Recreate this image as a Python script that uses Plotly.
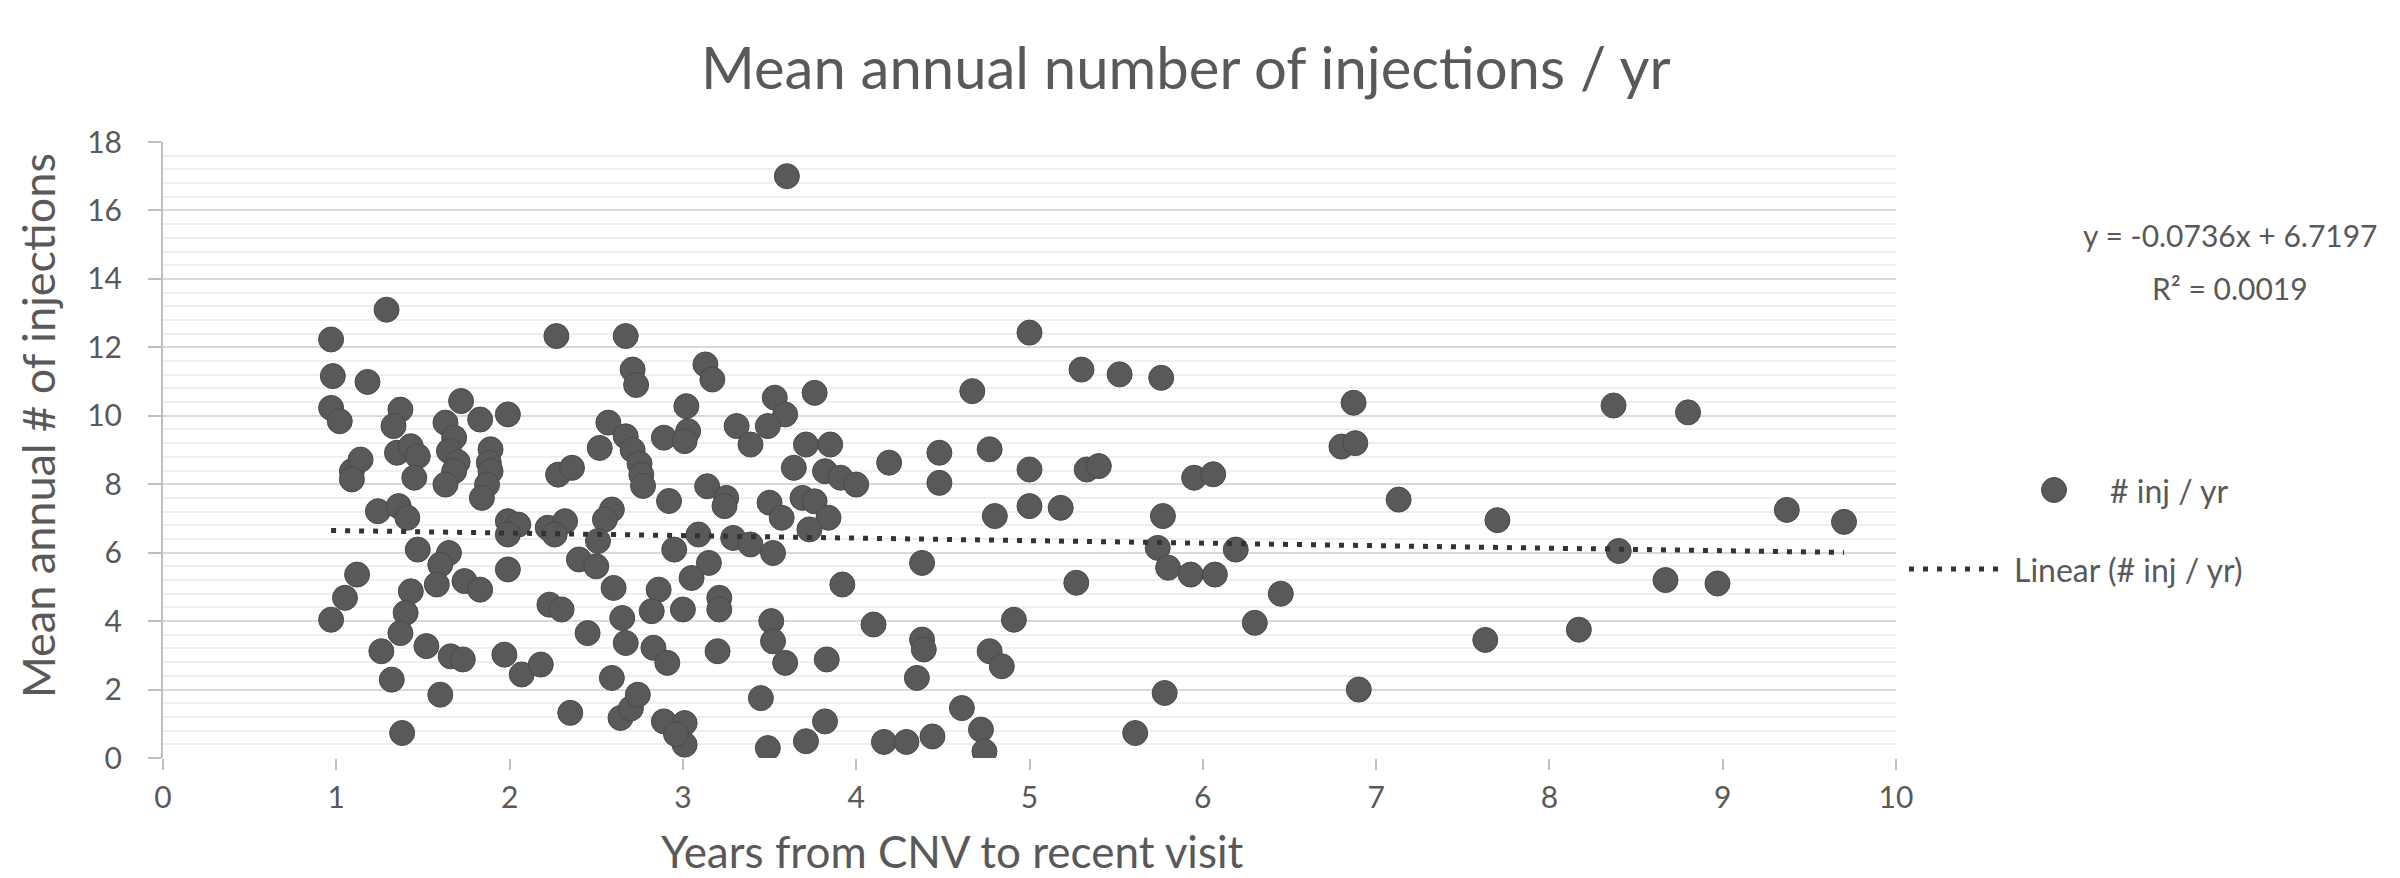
import plotly.graph_objects as go

# ---------------- data ----------------
years = [
    0.97, 0.98, 1.18, 0.97, 1.02, 1.29, 1.37, 1.33, 1.72, 1.63, 1.68, 1.65, 1.70, 1.68, 1.63,
    1.83, 1.99, 1.89, 1.88, 1.89, 1.87, 1.84,
    1.09, 1.14, 1.09, 1.35, 1.43, 1.47, 1.45, 1.24, 1.36, 1.41, 1.47, 1.65, 1.60, 1.58, 1.74, 1.83,
    1.12, 1.05, 0.97, 1.43, 1.40, 1.37, 1.26, 1.52, 1.66, 1.73, 1.32, 1.60, 1.38,
    1.99, 2.05, 1.99, 1.99, 1.97, 2.07,
    2.27, 2.67, 2.71, 2.73, 2.28, 2.36, 2.57, 2.52, 2.67, 2.71, 2.75, 2.76, 2.77,
    2.22, 2.32, 2.26, 2.59, 2.55, 2.51, 2.40, 2.50, 2.60, 2.23, 2.30, 2.45, 2.65, 2.67, 2.18, 2.59,
    2.35, 2.64, 2.70, 2.74,
    3.13, 3.17, 3.02, 3.03, 2.89, 3.01, 3.31, 3.39, 3.53, 3.59, 3.49, 3.64,
    2.92, 3.14, 3.25, 3.24, 3.50, 3.57, 3.09, 2.95, 3.29, 3.39, 3.52, 3.15, 3.05, 2.86, 2.82, 3.00,
    3.21, 3.21,
    2.83, 2.91, 3.20, 3.51, 3.52, 3.59, 3.45, 2.89, 3.01, 3.01, 2.96, 3.49, 3.60,
    3.76, 4.67, 3.71, 3.85, 3.82, 3.91, 4.00, 4.19, 4.48, 4.48, 4.77, 3.69, 3.76, 3.84, 3.73, 4.80,
    4.38, 3.92, 4.10, 4.38, 4.39, 4.35, 3.83, 4.91, 4.77, 4.84, 3.82, 3.71, 4.16, 4.29, 4.44, 4.61,
    4.72, 4.74,
    5.00, 5.30, 5.52, 5.76, 5.00, 5.33, 5.40, 5.95, 6.06, 5.00, 5.18, 5.77, 5.74, 5.80, 5.93, 6.07,
    6.19, 5.27, 5.78, 5.61,
    6.30, 6.45, 6.80, 6.88, 6.87, 6.90, 7.13, 7.70, 7.63, 8.17, 8.37, 8.40, 8.67, 8.80, 8.97, 9.37,
    9.70,
]
inj_per_yr = [
    12.23, 11.16, 10.99, 10.23, 9.84, 13.1, 10.18, 9.70, 10.43, 9.80, 9.36, 8.97, 8.65, 8.38, 7.99,
    9.89, 10.04, 9.02, 8.63, 8.38, 7.99, 7.6,
    8.38, 8.72, 8.14, 8.92, 9.11, 8.82, 8.19, 7.21, 7.36, 7.02, 6.09, 5.99, 5.65, 5.07, 5.17, 4.92,
    5.36, 4.68, 4.04, 4.87, 4.24, 3.65, 3.12, 3.27, 2.97, 2.88, 2.29, 1.85, 0.73,
    6.92, 6.82, 6.53, 5.51, 3.02, 2.44,
    12.33, 12.33, 11.35, 10.9, 8.28, 8.48, 9.80, 9.06, 9.40, 9.0, 8.6, 8.28, 7.95,
    6.73, 6.92, 6.53, 7.26, 6.97, 6.34, 5.80, 5.60, 4.97, 4.48, 4.34, 3.65, 4.09, 3.36, 2.73, 2.34,
    1.32, 1.17, 1.45, 1.85,
    11.5, 11.06, 10.28, 9.55, 9.36, 9.26, 9.70, 9.16, 10.53, 10.04, 9.70, 8.48,
    7.51, 7.94, 7.6, 7.36, 7.46, 7.02, 6.53, 6.09, 6.43, 6.24, 5.99, 5.70, 5.26, 4.92, 4.29, 4.34,
    4.68, 4.34,
    3.22, 2.78, 3.12, 4.0, 3.41, 2.78, 1.75, 1.07, 1.02, 0.39, 0.7, 0.29, 17.0,
    10.67, 10.72, 9.16, 9.16, 8.38, 8.19, 7.99, 8.63, 8.92, 8.04, 9.02, 7.6, 7.5, 7.02, 6.68, 7.07,
    5.70, 5.07, 3.9, 3.46, 3.17, 2.34, 2.88, 4.04, 3.12, 2.68, 1.07, 0.49, 0.47, 0.47, 0.63, 1.46,
    0.83, 0.19,
    12.43, 11.35, 11.21, 11.11, 8.43, 8.43, 8.53, 8.19, 8.29, 7.36, 7.31, 7.07, 6.14, 5.56, 5.36, 5.36,
    6.09, 5.12, 1.90, 0.73,
    3.95, 4.8, 9.1, 9.2, 10.38, 2.0, 7.55, 6.95, 3.45, 3.75, 10.3, 6.05, 5.2, 10.1, 5.1, 7.25,
    6.9,
]

# trendline as reported on the chart
slope = -0.0736
intercept = 6.7197
r_squared = 0.0019

x_ticks = list(range(0, 11))
y_ticks = list(range(0, 19, 2))

title_text = "Mean annual number of injections / yr"
x_title = "Years from CNV to recent visit"
y_title = "Mean annual # of injections"
series_name = "# inj / yr"
trend_name = "Linear (# inj / yr)"

# ---------------- layout geometry (pixels) ----------------
W, H = 2400, 878
L, R, T, B = 155, 512, 134, 128
plot_w = W - L - R
plot_h = H - T - B


def px_x(X):
    return (X - L) / plot_w


def px_y(Y):
    return (H - B - Y) / plot_h


FONT = "Lato"
TXT = "#595959"
MARK = "#595959"

trend_x = [min(years), max(years)]
trend_y = [slope * v + intercept for v in trend_x]

fig = go.Figure()
fig.add_trace(go.Scatter(
    x=years, y=inj_per_yr, mode="markers", name=series_name,
    marker=dict(size=25, color=MARK, line=dict(color="#4a4a4a", width=1)),
    showlegend=False,
))
fig.add_trace(go.Scatter(
    x=trend_x, y=trend_y, mode="lines", name=trend_name,
    line=dict(color="#333333", width=5, dash="5px,9px"),
    showlegend=False,
))

eq_text = f"y = {slope:.4f}x + {intercept:.4f}"
r2_text = f"R² = {r_squared:.4f}"

annotations = [
    dict(text=title_text, x=px_x(1178), y=px_y(58), xref="paper", yref="paper",
         showarrow=False, font=dict(family=FONT, size=58, color=TXT),
         xanchor="center", yanchor="middle"),
    dict(text=x_title, x=px_x(944), y=px_y(843), xref="paper", yref="paper",
         showarrow=False, font=dict(family=FONT, size=44, color=TXT),
         xanchor="center", yanchor="middle"),
    dict(text=y_title, x=px_x(30), y=px_y(418), xref="paper", yref="paper", textangle=-90,
         showarrow=False, font=dict(family=FONT, size=45, color=TXT),
         xanchor="center", yanchor="middle"),
    dict(text=eq_text, x=px_x(2222), y=px_y(227), xref="paper", yref="paper",
         showarrow=False, font=dict(family=FONT, size=30, color=TXT),
         xanchor="center", yanchor="middle"),
    dict(text=r2_text, x=px_x(2222), y=px_y(280), xref="paper", yref="paper",
         showarrow=False, font=dict(family=FONT, size=30, color=TXT),
         xanchor="center", yanchor="middle"),
    dict(text=series_name, x=px_x(2100), y=px_y(482), xref="paper", yref="paper",
         showarrow=False, font=dict(family=FONT, size=32, color=TXT),
         xanchor="left", yanchor="middle"),
    dict(text=trend_name, x=px_x(2004), y=px_y(561), xref="paper", yref="paper",
         showarrow=False, font=dict(family=FONT, size=32, color=TXT),
         xanchor="left", yanchor="middle"),
]

shapes = [
    # legend marker
    dict(type="circle", xref="paper", yref="paper", xsizemode="pixel", ysizemode="pixel",
         xanchor=px_x(2046), yanchor=px_y(482), x0=-12.5, x1=12.5, y0=-12.5, y1=12.5,
         fillcolor=MARK, line=dict(color="#4a4a4a", width=1)),
    # legend dotted line
    dict(type="line", xref="paper", yref="paper", x0=px_x(1901), x1=px_x(1993),
         y0=px_y(561), y1=px_y(561), line=dict(color="#333333", width=5, dash="5px,9px")),
]

fig.update_layout(
    width=W, height=H,
    margin=dict(l=L, r=R, t=T, b=B, autoexpand=False),
    paper_bgcolor="white", plot_bgcolor="white",
    font=dict(family=FONT, size=30, color=TXT),
    annotations=annotations, shapes=shapes,
    showlegend=False,
)
fig.update_xaxes(
    range=[0, 10], tickvals=x_ticks, showgrid=False, zeroline=False,
    showline=False, ticks="outside", ticklen=11, tickwidth=2, tickcolor="#bfbfbf",
    tickfont=dict(family=FONT, size=30, color=TXT), ticklabelstandoff=2,
)
fig.update_yaxes(
    range=[0, 18], tickvals=y_ticks, zeroline=False,
    showgrid=True, gridcolor="#d9d9d9", gridwidth=2,
    showline=True, linecolor="#bfbfbf", linewidth=2,
    ticks="outside", ticklen=13, tickwidth=2, tickcolor="#bfbfbf",
    tickfont=dict(family=FONT, size=30, color=TXT), ticklabelstandoff=20,
    minor=dict(dtick=0.4, tick0=0, showgrid=True, gridcolor="#efefef", gridwidth=2, ticks=""),
)

fig.write_html("out.html")
